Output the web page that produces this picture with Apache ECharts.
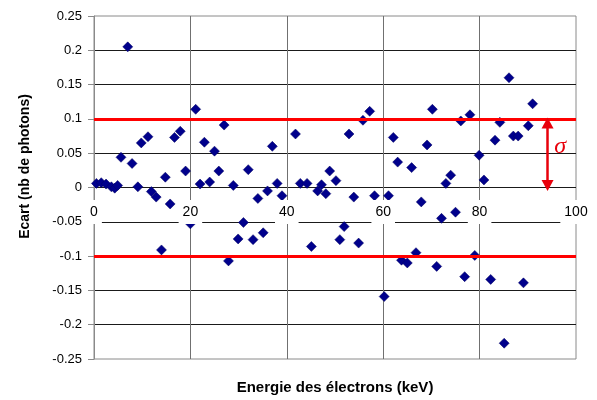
<!DOCTYPE html>
<html>
<head>
<meta charset="utf-8">
<script src="https://cdn.jsdelivr.net/npm/echarts@6/dist/echarts.min.js"></script>
<style>
  html, body { margin: 0; padding: 0; background: #fff; }
  #chart { width: 597px; height: 400px; }
</style>
</head>
<body>
<div id="chart"></div>
<script>
// Electron energy (keV) of each measurement
const energy = [
  0.5, 1.5, 2.5, 3.6, 4.3, 4.9, 5.6, 7.0, 7.9, 9.1,
  9.8, 11.2, 11.9, 12.9, 14.0, 14.8, 15.8, 16.7, 17.9, 19.0,
  20.0, 21.1, 22.0, 22.9, 24.0, 25.0, 25.9, 27.0, 27.9, 28.9,
  29.9, 31.0, 32.0, 33.0, 34.0, 35.1, 36.0, 37.0, 38.0, 39.0,
  41.8, 42.8, 44.2, 45.1, 46.4, 47.2, 48.1, 48.9, 50.2, 51.0,
  51.9, 52.9, 53.9, 54.9, 55.8, 57.2, 58.2, 60.2, 61.1, 62.1,
  63.0, 63.8, 65.0, 65.9, 66.8, 67.9, 69.1, 70.2, 71.1, 72.1,
  73.0, 74.0, 75.0, 76.1, 76.9, 78.0, 79.0, 79.9, 80.9, 82.3,
  83.2, 84.2, 85.1, 86.1, 87.0, 88.0, 89.1, 90.1, 91.0
];
// Deviation (number of photons) for each energy
const ecart = [
  0.006, 0.007, 0.005, 0.001, -0.001, 0.003, 0.044, 0.205, 0.035, 0.001,
  0.065, 0.074, -0.006, -0.014, -0.091, 0.015, -0.024, 0.073, 0.082, 0.024,
  -0.053, 0.114, 0.005, 0.066, 0.008, 0.053, 0.024, 0.091, -0.107, 0.003,
  -0.075, -0.051, 0.026, -0.076, -0.016, -0.066, -0.005, 0.060, 0.006, -0.012,
  0.078, 0.006, 0.006, -0.086, -0.005, 0.004, -0.009, 0.024, 0.010, -0.076,
  -0.057, 0.078, -0.014, -0.081, 0.098, 0.111, -0.012, -0.159, -0.012, 0.073,
  0.037, -0.106, -0.110, 0.029, -0.095, -0.021, 0.062, 0.114, -0.115, -0.045,
  0.006, 0.018, -0.036, 0.097, -0.130, 0.106, -0.099, 0.047, 0.011, -0.134,
  0.069, 0.095, -0.227, 0.160, 0.075, 0.075, -0.139, 0.090, 0.122
];
// Standard deviation band
const sigma = 0.1;
// Position of the sigma annotation arrow (keV)
const sigmaArrowX = 94.1;
const sigmaTextPos = [96.7, 0.059];

const xMin = 0, xMax = 100, xStep = 20;
const yMin = -0.25, yMax = 0.25, yStep = 0.05;

const points = energy.map((e, i) => [e, ecart[i]]);

const chartW = 597, chartH = 400;
const gridBox = { left: 94, right: 21, top: 16, bottom: 40 };
// the energy tick labels run along the zero line, so lift their axis from the bottom edge
const plotH = chartH - gridBox.top - gridBox.bottom;
const zeroLift = -plotH * (0 - yMin) / (yMax - yMin);

const chart = echarts.init(document.getElementById('chart'), null, { renderer: 'canvas' });
const font = 'Liberation Sans, Arial, sans-serif';

chart.setOption({
  animation: false,
  backgroundColor: '#fff',
  grid: Object.assign({
    show: true, borderColor: '#8a8a8a', borderWidth: 1, backgroundColor: 'transparent'
  }, gridBox),
  xAxis: [
    {
      // tick labels on the zero line, drawn above the markers
      type: 'value', min: xMin, max: xMax, interval: xStep, position: 'bottom',
      offset: zeroLift, z: 10,
      axisLine: { show: false, onZero: false },
      axisTick: { show: false },
      splitLine: { show: false },
      axisLabel: {
        margin: 13, color: '#000', fontSize: 14, fontFamily: font,
        backgroundColor: '#ffffff', padding: [5, 4, 5, 4], borderRadius: 0
      }
    },
    {
      // vertical grid lines and axis title
      type: 'value', min: xMin, max: xMax, interval: xStep, position: 'bottom',
      axisLine: { show: false, onZero: false },
      axisTick: { show: false },
      axisLabel: { show: false },
      splitLine: {
        show: true, showMinLine: false, showMaxLine: false,
        lineStyle: { color: '#707070', width: 1 }
      },
      name: 'Energie des électrons (keV)',
      nameLocation: 'middle', nameGap: 21,
      nameTextStyle: { fontSize: 15, fontWeight: 'bold', color: '#000', fontFamily: font }
    }
  ],
  yAxis: {
    type: 'value', min: yMin, max: yMax, interval: yStep,
    axisLine: { show: true, onZero: false, lineStyle: { color: '#8a8a8a', width: 1 } },
    axisTick: { show: true, inside: false, length: 6, lineStyle: { color: '#8a8a8a' } },
    axisLabel: { margin: 12, color: '#000', fontSize: 13, fontFamily: font },
    splitLine: {
      show: true, showMinLine: false, showMaxLine: false,
      lineStyle: { color: '#1a1a1a', width: 1 }
    },
    name: 'Ecart (nb de photons)',
    nameLocation: 'middle', nameGap: 62, nameRotate: 90,
    nameTextStyle: {
      fontSize: 14, fontWeight: 'bold', color: '#000', fontFamily: font,
      padding: [0, 0, 0, 42]
    }
  },
  series: [
    {
      // ±sigma bounds and the sigma annotation
      type: 'line', data: [], z: 1, silent: true,
      markLine: {
        silent: true, symbol: 'none', animation: false,
        label: { show: false },
        lineStyle: { color: '#ff0000', width: 3, type: 'solid' },
        data: [
          { yAxis: sigma },
          { yAxis: -sigma },
          [
            {
              coord: [sigmaArrowX, sigma - 0.006], symbol: 'triangle', symbolSize: [12, 11],
              lineStyle: { color: '#e8000b', width: 2.5 }
            },
            { coord: [sigmaArrowX, 0.003], symbol: 'triangle', symbolSize: [12, 11] }
          ]
        ]
      },
      markPoint: {
        silent: true, symbol: 'circle', symbolSize: 0,
        label: {
          show: true, formatter: 'σ', color: '#e8000b', fontSize: 24,
          fontStyle: 'italic', fontFamily: 'Liberation Serif, DejaVu Serif, serif'
        },
        data: [{ coord: sigmaTextPos }]
      }
    },
    {
      type: 'scatter', z: 2,
      symbol: 'diamond', symbolSize: 10,
      itemStyle: { color: '#00008c', opacity: 1, borderColor: '#000060', borderWidth: 0.5 },
      data: points
    }
  ]
});
</script>
</body>
</html>
